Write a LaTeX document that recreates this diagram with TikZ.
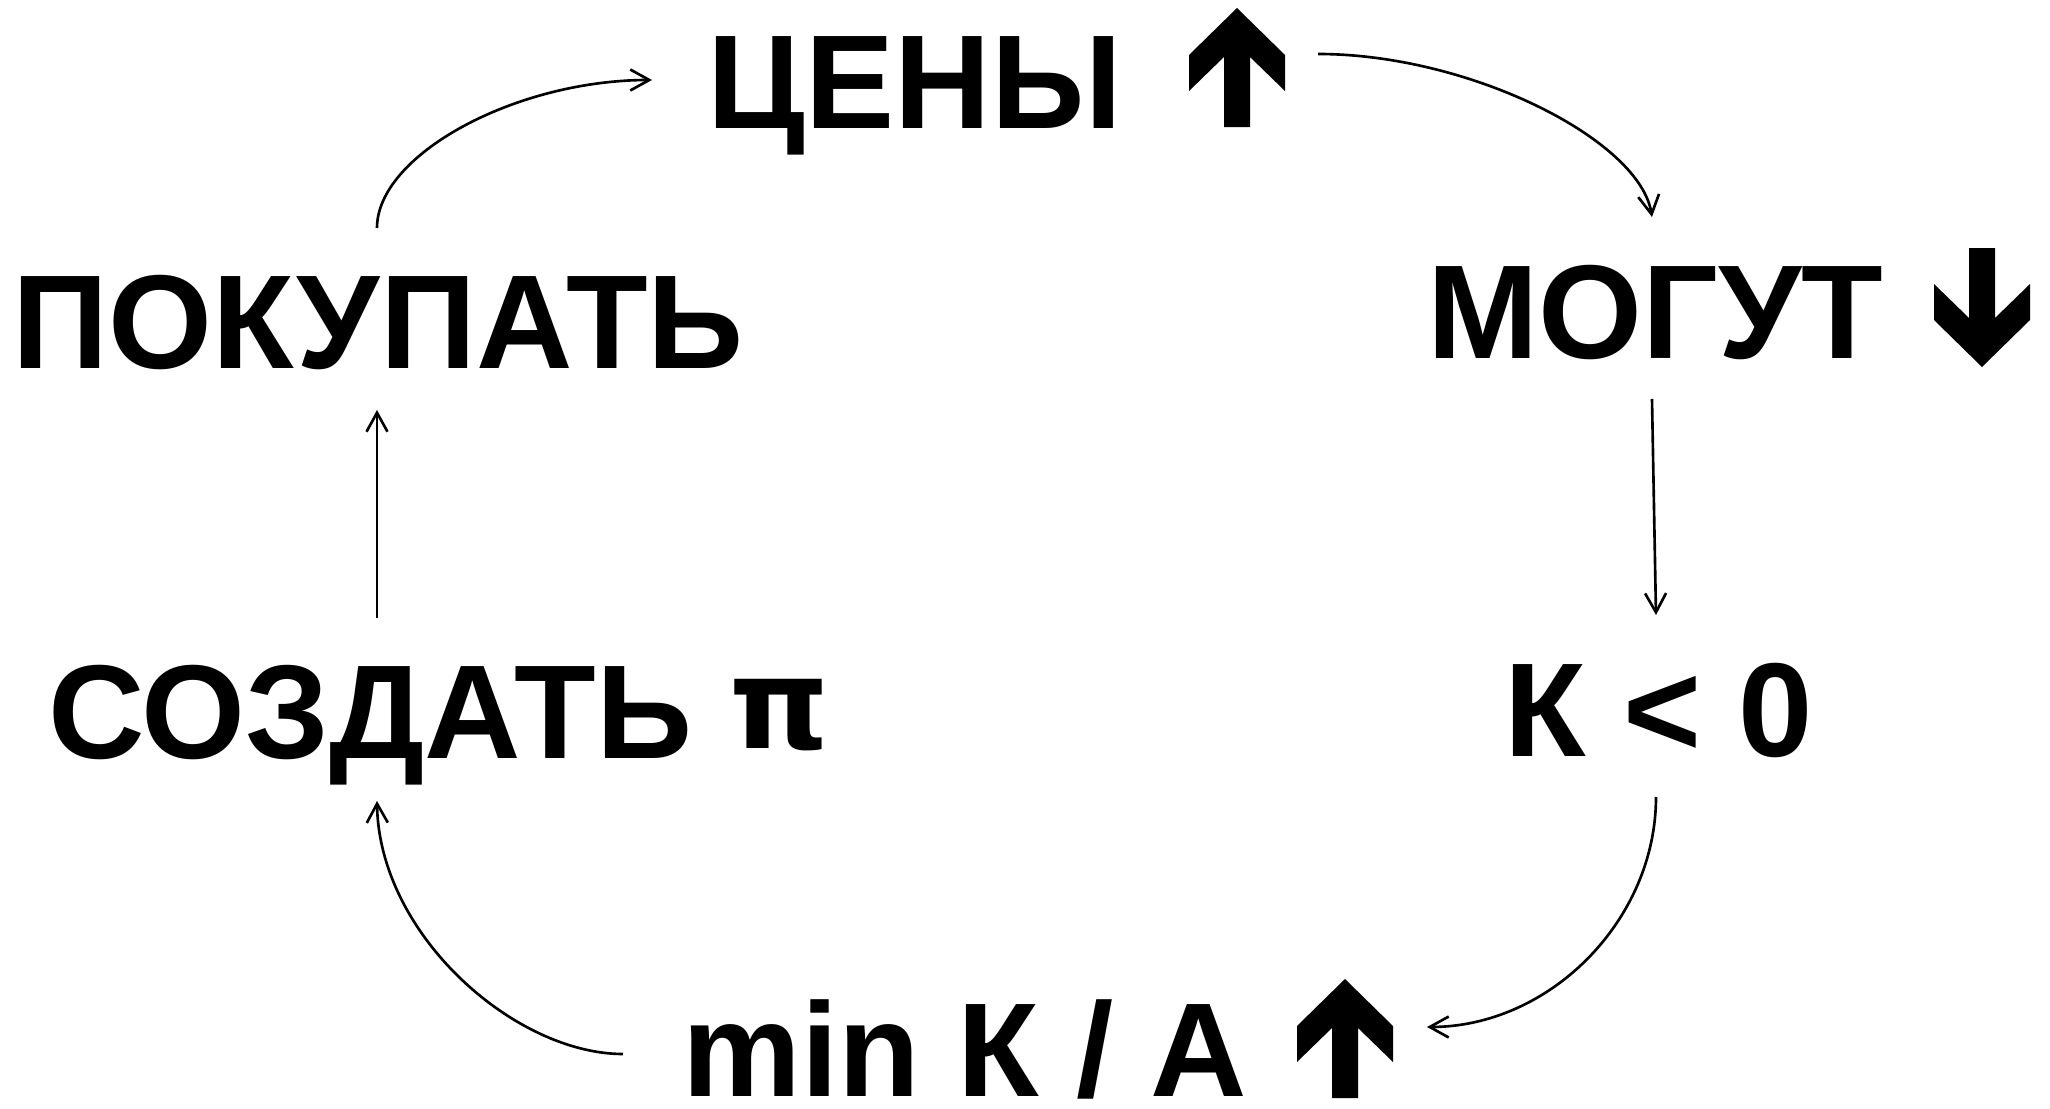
\documentclass[tikz,border=0pt]{standalone}
\usepackage{fontspec}
\setmainfont{Liberation Sans}
\newfontfamily\pifont{DejaVu Sans}
\usetikzlibrary{arrows.meta}
\begin{document}
\begin{tikzpicture}[x=0.01cm,y=-0.01cm,
  lbl/.style={inner sep=0pt,outer sep=0pt,anchor=base,font=\fontsize{38}{40}\selectfont\bfseries},
  conn/.style={line width=0.75pt,-{Straight Barb[length=1.9mm,width=2.1mm]}},
  bigarrow/.pic={\fill[black] (0,0) -- (48,47) -- (48,83) -- (13,49) -- (13,119) -- (-13,119) -- (-13,49) -- (-48,83) -- (-48,47) -- cycle;}]
\useasboundingbox (0,0) rectangle (2050,1109);
% text nodes
\node[lbl] (ceny) at (915,129) {ЦЕНЫ};
\node[lbl] (pok) at (378,368) {ПОКУПАТЬ};
\node[lbl] (mog) at (1655,358) {МОГУТ};
\node[lbl] (soz) at (439,758) {СОЗДАТЬ \raisebox{0.09cm}{\pifont\fontsize{36}{40}\selectfont π}};
\node[lbl] (k0) at (1659,756) {К < 0};
\node[lbl] (mink) at (965,1096) {min К / А};
% bold arrows
\pic at (1237,8) {bigarrow};
\pic[rotate=180] at (1982,367) {bigarrow};
\pic at (1345,979) {bigarrow};
% connector end points
\coordinate (c1s) at (377,228);
\coordinate (c1e) at (652,80);
\coordinate (c2s) at (1318,54);
\coordinate (c2e) at (1652,217);
\coordinate (c3s) at (1652,399);
\coordinate (c3e) at (1656,615);
\coordinate (c4s) at (1656,797);
\coordinate (c4e) at (1427,1027);
\coordinate (c5s) at (623,1054);
\coordinate (c5e) at (377,801);
\coordinate (c6s) at (377,618);
\coordinate (c6e) at (377,410);
% connectors
\draw[conn] (c1s) .. controls (377,155) and (515,80) .. (c1e);
\draw[conn] (c2s) .. controls (1470,54) and (1640,140) .. (c2e);
\draw[conn] (c3s) -- (c3e);
\draw[conn] (c4s) .. controls (1656,920) and (1550,1027) .. (c4e);
\draw[conn] (c5s) .. controls (515,1054) and (379,935) .. (c5e);
\draw[conn] (c6s) -- (c6e);
\end{tikzpicture}
\end{document}
